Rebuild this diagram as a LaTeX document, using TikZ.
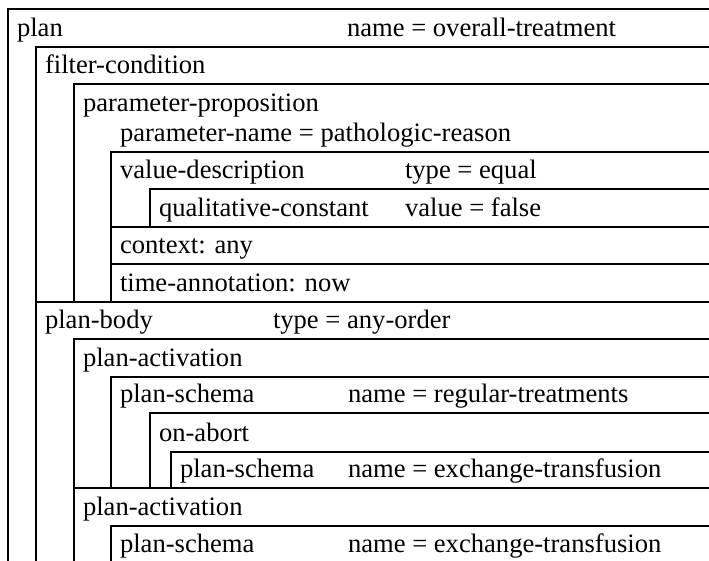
\documentclass[tikz,border=0pt]{standalone}
\usepackage{fontspec}
\setmainfont{Liberation Serif}
\begin{document}
\begin{tikzpicture}[x=1pt,y=-1pt,
  box/.style={line width=2pt,line join=miter},
  lbl/.style={anchor=base west,inner sep=0pt,outer sep=0pt,font=\fontsize{26.6}{30}\selectfont}]
\useasboundingbox (0,0) rectangle (709,560);
% boxes: left edge then top edge
\draw[box] (8,562) -- (8,9) -- (711,9);
\draw[box] (36,562) -- (36,47) -- (711,47);
\draw[box] (74,302) -- (74,84) -- (711,84);
\draw[box] (111,302) -- (111,152) -- (711,152);
\draw[box] (150,227) -- (150,189) -- (711,189);
\draw[box] (111,227) -- (711,227);
\draw[box] (111,264) -- (711,264);
\draw[box] (36,302) -- (711,302);
\draw[box] (74,562) -- (74,339) -- (711,339);
\draw[box] (111,488) -- (111,377) -- (711,377);
\draw[box] (150,488) -- (150,413) -- (711,413);
\draw[box] (171,488) -- (171,452) -- (711,452);
\draw[box] (74,488) -- (711,488);
\draw[box] (111,562) -- (111,526) -- (711,526);
% labels
\node[lbl] (plan) at (17,36) {plan};
\node[lbl] (planname) at (347,36) {name = overall-treatment};
\node[lbl] (filter) at (45,73) {filter-condition};
\node[lbl] (pprop) at (83,111) {parameter-proposition};
\node[lbl] (pname) at (120,141) {parameter-name = pathologic-reason};
\node[lbl] (vdesc) at (120,178) {value-description};
\node[lbl] (vtype) at (405,178) {type = equal};
\node[lbl] (qconst) at (159,216) {qualitative-constant};
\node[lbl] (qval) at (405,216) {value = false};
\node[lbl] (ctx) at (120,253) {context: any};
\node[lbl] (tann) at (120,291) {time-annotation: now};
\node[lbl] (pbody) at (45,328) {plan-body};
\node[lbl] (pbtype) at (273,328) {type = any-order};
\node[lbl] (pact1) at (83,366) {plan-activation};
\node[lbl] (ps1) at (120,402) {plan-schema};
\node[lbl] (ps1name) at (348,402) {name = regular-treatments};
\node[lbl] (abort) at (159,441) {on-abort};
\node[lbl] (ps2) at (180,477) {plan-schema};
\node[lbl] (ps2name) at (348,477) {name = exchange-transfusion};
\node[lbl] (pact2) at (83,515) {plan-activation};
\node[lbl] (ps3) at (120,552) {plan-schema};
\node[lbl] (ps3name) at (348,552) {name = exchange-transfusion};
\end{tikzpicture}
\end{document}
